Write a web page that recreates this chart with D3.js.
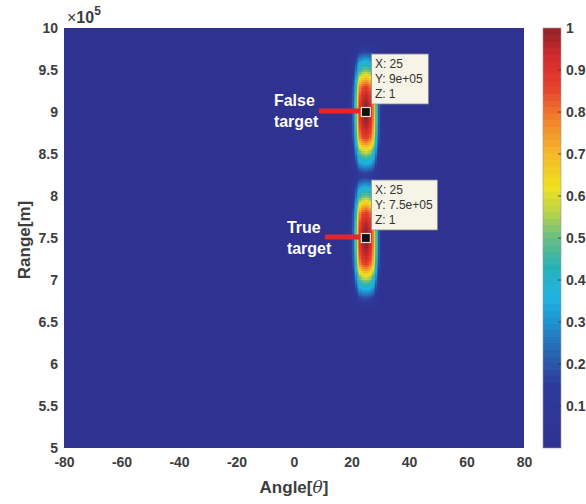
<!DOCTYPE html>
<html>
<head>
<meta charset="utf-8">
<script src="https://cdn.jsdelivr.net/npm/d3@7"></script>
<style>
  body { margin: 0; background: #fff; }
  text { font-family: "Liberation Sans", Arial, sans-serif; }
</style>
</head>
<body>
<div id="chart"></div>
<script>
const FRAME_WIDTH = 586;
const FRAME_HEIGHT = 504;
const PLOT = {left: 64, right: 524, top: 28, bottom: 448};

// targets (range in units of 1e5 m)
const targetAngles = [25, 25];
const targetRanges = [9, 7.5];
const targetPeaks = [1, 1];
const targetNames = [["False", "target"], ["True", "target"]];

// beam profile, offset from the peak
const ANGLE_STEP = 0.5;   // deg
const angleGain = [1.00, 0.99, 0.97, 0.94, 0.89, 0.80, 0.66, 0.49, 0.34, 0.22, 0.13, 0.07, 0.03, 0.01];
const RANGE_STEP = 0.025; // x1e5 m
const rangeGain = [1.00, 1.00, 0.998, 0.995, 0.99, 0.98, 0.97, 0.96, 0.95, 0.93, 0.91, 0.89, 0.87,
                   0.83, 0.79, 0.75, 0.70, 0.66, 0.61, 0.57, 0.52, 0.48, 0.44, 0.41, 0.37, 0.33,
                   0.29, 0.25, 0.21, 0.17, 0.13, 0.09, 0.06, 0.04, 0.02, 0.01, 0.01];

const xTicks = [-80, -60, -40, -20, 0, 20, 40, 60, 80];
const yTicks = [5, 5.5, 6, 6.5, 7, 7.5, 8, 8.5, 9, 9.5, 10];
const cbTicks = [0.1, 0.2, 0.3, 0.4, 0.5, 0.6, 0.7, 0.8, 0.9, 1];

// label / arrow offsets from each target marker (px)
const labelDx = [-92, -79];
const labelDy = [-6, -5];
const arrowFrom = [-47, -41];

const x = d3.scaleLinear().domain([-80, 80]).range([PLOT.left, PLOT.right]);
const y = d3.scaleLinear().domain([5, 10]).range([PLOT.bottom, PLOT.top]);

const jetStops = [0, 0.15, 0.22, 0.30, 0.36, 0.43, 0.50, 0.56, 0.62, 0.70, 0.78, 0.86, 0.93, 1];
const jetColors = ["#2f3290", "#2e3a9b", "#2960ad", "#1e93d0", "#1fb3e3", "#27b2b8", "#68bd84",
                   "#b7d34b", "#f0e21f", "#f6b92a", "#f1852c", "#e6402d", "#d42b2c", "#8e2328"];
const color = d3.scaleLinear().domain(jetStops).range(jetColors).clamp(true);

const svg = d3.select("#chart")
  .append("svg")
    .attr("width", FRAME_WIDTH)
    .attr("height", FRAME_HEIGHT);

svg.append("clipPath").attr("id", "plotclip")
  .append("rect")
    .attr("x", PLOT.left).attr("y", PLOT.top)
    .attr("width", PLOT.right - PLOT.left)
    .attr("height", PLOT.bottom - PLOT.top);

// grid of cells
function value(a, r) {
  let v = 0;
  for (let i = 0; i < targetAngles.length; i++) {
    const ia = Math.round(Math.abs(a - targetAngles[i]) / ANGLE_STEP);
    const ir = Math.round(Math.abs(r - targetRanges[i]) / RANGE_STEP);
    const g = (angleGain[ia] || 0) * (rangeGain[ir] || 0) * targetPeaks[i];
    if (g > v) v = g;
  }
  return v;
}

const angles = d3.range(0, 321).map(i => -80 + i * ANGLE_STEP);
const ranges = d3.range(0, 201).map(j => 5 + j * RANGE_STEP);
const cells = [];
ranges.forEach(r => angles.forEach(a => cells.push({a: a, r: r, v: value(a, r)})));

const cw = x(ANGLE_STEP) - x(0);
const ch = y(5) - y(5 + RANGE_STEP);

svg.append("g")
    .attr("clip-path", "url(#plotclip)")
    .attr("shape-rendering", "crispEdges")
  .selectAll("rect")
  .data(cells)
  .enter()
  .append("rect")
    .attr("x", d => x(d.a) - cw / 2)
    .attr("y", d => y(d.r) - ch / 2)
    .attr("width", cw + 0.6)
    .attr("height", ch + 0.6)
    .attr("fill", d => color(d.v));

// axes
const tickColor = "#3d3d3d";
const xAxis = svg.append("g")
    .attr("transform", `translate(0,${PLOT.bottom})`)
    .call(d3.axisBottom(x).tickValues(xTicks).tickSize(0).tickPadding(9).tickFormat(d => String(d)));
const yAxis = svg.append("g")
    .attr("transform", `translate(${PLOT.left},0)`)
    .call(d3.axisLeft(y).tickValues(yTicks).tickSize(0).tickPadding(6).tickFormat(d => String(d)));
[xAxis, yAxis].forEach(g => {
  g.select(".domain").remove();
  g.selectAll("text")
    .attr("font-family", "'Liberation Sans', Arial, sans-serif")
    .attr("font-size", 14)
    .attr("font-weight", "bold")
    .attr("fill", tickColor);
});

// x10^5 multiplier
const mult = svg.append("text")
    .attr("x", PLOT.left + 3)
    .attr("y", PLOT.top - 5)
    .attr("font-size", 16)
    .attr("font-weight", "bold")
    .attr("fill", tickColor);
mult.append("tspan").attr("font-weight", "normal").text("\u00d7");
mult.append("tspan").text("10");
mult.append("tspan").attr("dy", -8).attr("font-size", 12).text("5");

// axis titles
const xTitle = svg.append("text")
    .attr("x", (PLOT.left + PLOT.right) / 2)
    .attr("y", 493)
    .attr("text-anchor", "middle")
    .attr("font-size", 17)
    .attr("font-weight", "bold")
    .attr("fill", tickColor);
xTitle.append("tspan").text("Angle[");
xTitle.append("tspan").attr("font-style", "italic").attr("font-weight", "normal")
    .attr("font-family", "'DejaVu Serif', serif").text("\u03b8");
xTitle.append("tspan").text("]");

svg.append("text")
    .attr("transform", `translate(30,${(PLOT.top + PLOT.bottom) / 2 + 2}) rotate(-90)`)
    .attr("text-anchor", "middle")
    .attr("font-size", 17)
    .attr("font-weight", "bold")
    .attr("fill", tickColor)
    .text("Range[m]");

// targets: arrows, labels, markers, data tips
const tipFmt = v => v.toExponential().replace(/e([+-])(\d)$/, "e$10$2");

targetAngles.forEach((ta, i) => {
  const px = x(ta), py = y(targetRanges[i]);

  svg.append("line")
      .attr("x1", px + arrowFrom[i]).attr("y1", py - 1)
      .attr("x2", px - 6).attr("y2", py - 1)
      .attr("stroke", "#e3262b")
      .attr("stroke-width", 5);

  targetNames[i].forEach((w, k) => {
    svg.append("text")
        .attr("x", px + labelDx[i])
        .attr("y", py + labelDy[i] + k * 21)
        .attr("font-size", 16)
        .attr("font-weight", "bold")
        .attr("fill", "#ffffff")
        .text(w);
  });

  svg.append("rect")
      .attr("x", px - 4.5).attr("y", py - 4.5)
      .attr("width", 9).attr("height", 9)
      .attr("fill", "#111")
      .attr("stroke", "#e8e0d0")
      .attr("stroke-width", 1.2);

  const tip = svg.append("g");
  const box = tip.append("rect")
      .attr("fill", "#f5f4e6")
      .attr("stroke", "#8a8a8a")
      .attr("stroke-width", 0.8);
  const lines = ["X: " + ta, "Y: " + tipFmt(targetRanges[i] * 1e5), "Z: " + targetPeaks[i]];
  const boxTop = py - 58;
  lines.forEach((t, k) => {
    tip.append("text")
        .attr("x", px + 9)
        .attr("y", boxTop + 14 + k * 15)
        .attr("font-size", 12)
        .attr("fill", "#333")
        .text(t);
  });
  const bb = tip.node().getBBox();
  box.attr("x", px + 5.5).attr("y", boxTop)
     .attr("width", Math.max(57, bb.width + 8))
     .attr("height", 50);
});

// colorbar
const CB = {left: 543, right: 561};
const cb = d3.scaleLinear().domain([0, 1]).range([PLOT.bottom, PLOT.top]);
const bands = d3.range(64);
svg.append("g").attr("shape-rendering", "crispEdges").selectAll("rect")
  .data(bands)
  .enter()
  .append("rect")
    .attr("x", CB.left)
    .attr("y", d => cb((d + 1) / 64))
    .attr("width", CB.right - CB.left)
    .attr("height", cb(0) - cb(1 / 64) + 0.4)
    .attr("fill", d => color((d + 0.5) / 64));
svg.append("rect")
    .attr("x", CB.left).attr("y", PLOT.top)
    .attr("width", CB.right - CB.left).attr("height", PLOT.bottom - PLOT.top)
    .attr("fill", "none").attr("stroke", "#9a9a9a").attr("stroke-width", 0.6);

const cbAxis = svg.append("g")
    .attr("transform", `translate(${CB.right},0)`)
    .call(d3.axisRight(cb).tickValues(cbTicks).tickSize(0).tickPadding(5).tickFormat(d => String(d)));
cbAxis.select(".domain").remove();
cbAxis.selectAll("text")
    .attr("font-family", "'Liberation Sans', Arial, sans-serif")
    .attr("font-size", 14)
    .attr("font-weight", "bold")
    .attr("fill", tickColor);
svg.append("g").selectAll("line")
  .data(cbTicks.filter(t => t < 1))
  .enter()
  .append("line")
    .attr("x1", CB.right - 3).attr("x2", CB.right)
    .attr("y1", d => cb(d)).attr("y2", d => cb(d))
    .attr("stroke", "#333").attr("stroke-width", 0.8);
</script>
</body>
</html>
